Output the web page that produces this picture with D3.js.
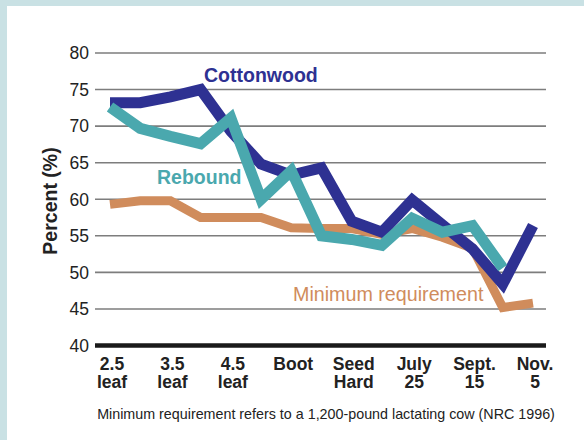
<!DOCTYPE html>
<html><head><meta charset="utf-8">
<script src="https://cdn.jsdelivr.net/npm/d3@7/dist/d3.min.js"></script>
<style>
html,body{margin:0;padding:0;background:#c9e1e4;}
svg{display:block;}
text{font-family:"Liberation Sans",Arial,Helvetica,sans-serif;}
</style></head>
<body>
<svg id="c" width="584" height="440"></svg>
<script>
// Stage labels (every other step on the x axis)
const stages = [["2.5","leaf"],["3.5","leaf"],["4.5","leaf"],["Boot",""],["Seed","Hard"],["July","25"],["Sept.","15"],["Nov.","5"]];
// half-step positions between stages
const steps = d3.range(15);
const cottonwood = [73.2, 73.2, 74.0, 75.0, 69.3, 64.8, 63.3, 64.3, 57.0, 55.5, 59.9, 56.5, 53.2, 48.4, 56.4];
const rebound    = [72.6, 69.7, 68.6, 67.6, 71.1, 60.0, 63.9, 55.0, 54.5, 53.7, 57.4, 55.5, 56.4, 50.6, null];
const minimum    = [59.3, 59.8, 59.8, 57.5, 57.5, 57.5, 56.1, 56.0, 56.0, 55.2, 56.0, 54.8, 53.3, 45.2, 45.8];
const yTicks = [40,45,50,55,60,65,70,75,80];

const svg = d3.select("#c");
svg.append("rect").attr("x",7).attr("y",6).attr("width",577).attr("height",434).attr("fill","#fff");

const x = d3.scaleLinear().domain([0,14]).range([110,533]);
const y = d3.scaleLinear().domain([40,80]).range([345.5,53]);
const gx0 = 95, gx1 = 546;

// gridlines
svg.append("g").selectAll("line").data(yTicks.filter(t=>t>40)).join("line")
  .attr("x1",gx0).attr("x2",gx1).attr("y1",d=>y(d)).attr("y2",d=>y(d))
  .attr("stroke","#7d7d7d").attr("stroke-width",1.6);

// y tick labels
svg.append("g").selectAll("text").data(yTicks).join("text")
  .attr("x",89).attr("y",d=>y(d)).attr("dy","0.36em")
  .attr("text-anchor","end").attr("font-size",17.5).attr("fill","#222")
  .text(d=>d);

// y title
svg.append("text").attr("transform","translate(57,201) rotate(-90)")
  .attr("text-anchor","middle").attr("font-size",19.5).attr("font-weight","bold").attr("fill","#222")
  .text("Percent (%)");

// lines
const line = d3.line().defined(d=>d!=null).x((d,i)=>x(i)).y(d=>y(d));
const series = [
  {v:minimum, c:"#d08c5c", w:9},
  {v:cottonwood, c:"#2e3192", w:11},
  {v:rebound, c:"#4aa8ae", w:11}
];
svg.append("g").selectAll("path").data(series).join("path")
  .attr("d",d=>line(d.v)).attr("fill","none")
  .attr("stroke",d=>d.c).attr("stroke-width",d=>d.w)
  .attr("stroke-linejoin","miter").attr("stroke-miterlimit",10).attr("stroke-linecap","butt");

// baseline
svg.append("line").attr("x1",gx0).attr("x2",gx1).attr("y1",y(40)).attr("y2",y(40))
  .attr("stroke","#1a1a1a").attr("stroke-width",4.5);

// x labels
const xl = svg.append("g").selectAll("text").data(stages).join("text")
  .attr("text-anchor","middle").attr("font-size",17.5).attr("font-weight","bold").attr("fill","#222");
xl.append("tspan").attr("x",(d,i)=>x(i*2)+2).attr("y",369.5).text(d=>d[0]);
xl.append("tspan").attr("x",(d,i)=>x(i*2)+2).attr("y",388).text(d=>d[1]);

// series labels
svg.append("text").attr("x",204).attr("y",82).attr("font-size",19.5).attr("font-weight","bold").attr("fill","#2e3192").text("Cottonwood");
svg.append("text").attr("x",157).attr("y",184).attr("font-size",19.5).attr("font-weight","bold").attr("fill","#4aa8ae").text("Rebound");
svg.append("text").attr("x",293).attr("y",301).attr("font-size",19.7).attr("fill","#d08c5c").text("Minimum requirement");

// caption
svg.append("text").attr("x",326).attr("y",419).attr("text-anchor","middle").attr("font-size",14.3).attr("fill","#222")
  .text("Minimum requirement refers to a 1,200-pound lactating cow (NRC 1996)");
</script>
</body></html>
